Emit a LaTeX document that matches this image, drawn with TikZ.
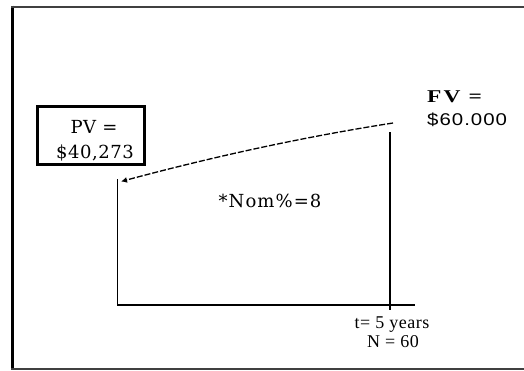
\documentclass[tikz,border=0pt]{standalone}
\usepackage{fontspec}
\setmainfont{Liberation Serif}
\newfontfamily\slabfont[LetterSpace=3]{DejaVu Serif}
\newfontfamily\nomfont[LetterSpace=6]{DejaVu Serif}
\newfontfamily\fvbold[FakeStretch=1.3,LetterSpace=12]{Liberation Serif Bold}
\newfontfamily\fvsans[FakeStretch=1.2,LetterSpace=6]{Liberation Sans}
\newfontfamily\tfont[LetterSpace=3]{Liberation Serif}
\usetikzlibrary{arrows.meta}
\tikzset{
  frameline/.style={line width=2pt,black!75},
  axisline/.style={line width=1.2pt,black},
  pvbox/.style={draw,line width=3pt,minimum width=107pt,minimum height=58pt,inner sep=0pt,align=center},
  lbl/.style={inner sep=0pt,align=center},
  flow/.style={line width=1.3pt,dash pattern=on 6pt off 2pt,-{Latex[length=6pt,width=6pt]}}
}
\begin{document}
\begin{tikzpicture}[x=1pt,y=-1pt]
\useasboundingbox (0,0) rectangle (524,370);
\fill[white] (0,0) rectangle (524,370);
% frame
\draw[line width=3pt] (12.5,5.5) -- (12.5,369.5);
\draw[frameline] (11,6.5) -- (524,6.5);
\draw[frameline] (11,368.5) -- (524,368.5);
% axes
\coordinate (top0) at (117.3,179);
\coordinate (orig) at (117.3,305);
\coordinate (axend) at (415,305);
\coordinate (ttop) at (390,132);
\coordinate (tbot) at (390,310);
\draw[axisline] (top0) -- (orig) -- (axend);
\draw[axisline] (ttop) -- (tbot);
% boxes and labels
\node[pvbox] (pv) at (91.3,135) {};
\node[lbl,font=\slabfont\fontsize{18}{20}\selectfont] (pvl) at (94,127) {PV =};
\node[lbl,font=\slabfont\fontsize{18}{20}\selectfont] (pvv) at (95,153) {\$40,273};
\node[lbl,anchor=west,font=\fvbold\fontsize{18}{20}\selectfont] (fv) at (427,97) {FV =};
\node[lbl,anchor=west,font=\fvsans\fontsize{17}{20}\selectfont] (fvv) at (427,120) {\$60.000};
\node[lbl,font=\nomfont\fontsize{18}{20}\selectfont] (nom) at (270,201) {*Nom\%=8};
\node[lbl,font=\tfont\fontsize{18}{17}\selectfont] (t) at (392,325) {t= 5 years};
\node[lbl,font=\tfont\fontsize{18}{17}\selectfont] (n) at (393,342) {N = 60};
% discount flow
\coordinate (fvpt) at (393,123);
\coordinate (pvpt) at (121,181.5);
\draw[flow] (fvpt) .. controls (303,137) and (212,157) .. (pvpt);
\end{tikzpicture}
\end{document}
